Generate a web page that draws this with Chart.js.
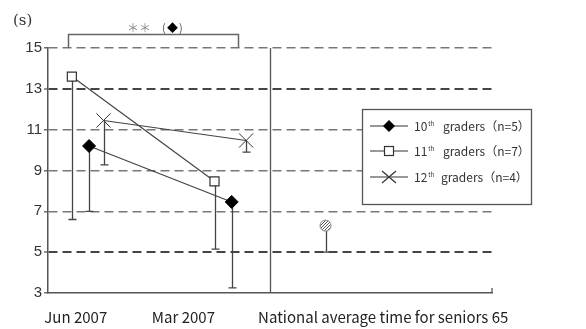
<!DOCTYPE html>
<html>
<head>
<meta charset="utf-8">
<script src="https://cdn.jsdelivr.net/npm/chart.js@4/dist/chart.umd.min.js"></script>
<style>
html,body{margin:0;padding:0;background:#fff;}
#wrap{width:586px;height:329px;position:relative;}
</style>
</head>
<body>
<div id="wrap"><canvas id="c" width="586" height="329"></canvas></div>
<script>
// ---- data ----
const categories = ['Jun 2007', 'Mar 2007', 'National average time for seniors 65'];
const seriesNames = ['10', '11', '12'];
const seriesN = [5, 7, 4];
const grade10 = [10.2, 7.46];
const grade10Low = [7.0, 3.25];
const grade11 = [13.6, 8.47];
const grade11Low = [6.6, 5.15];
const grade12 = [11.45, 10.47];
const grade12Low = [9.28, 9.9];
const nationalAvg = [6.3];
const nationalLow = [5.0];
const yTicks = [3, 5, 7, 9, 11, 13, 15];

// ---- layout (axis positions in x-axis units) ----
const groupCenter = [0.37, 1.655];
const seriesOffset = [0, -0.155, 0.13];
const nationalX = 2.5;
const dividerX = 2.0;
const labelPos = [0.25, 1.22, 3.02];
const bracketX = [0.18, 1.71];

function pts(vals, si) { return vals.map((v, i) => ({x: groupCenter[i] + seriesOffset[si], y: v})); }

// hatch pattern for national marker
const pc = document.createElement('canvas');
pc.width = 3; pc.height = 3;
const pctx = pc.getContext('2d');
pctx.fillStyle = '#fff'; pctx.fillRect(0,0,3,3);
pctx.fillStyle = '#555';
pctx.fillRect(0,2,1,1); pctx.fillRect(1,1,1,1); pctx.fillRect(2,0,1,1);
const hatch = pctx.createPattern(pc, 'repeat');

const lowsBySet = [grade10Low, grade11Low, grade12Low, nationalLow];

const errorBars = {
  id: 'errorBars',
  beforeDatasetsDraw(chart) {
    const ctx = chart.ctx, ys = chart.scales.y;
    ctx.save();
    ctx.strokeStyle = '#444'; ctx.lineWidth = 1.3;
    chart.data.datasets.forEach((ds, di) => {
      const meta = chart.getDatasetMeta(di);
      ds.data.forEach((p, i) => {
        const el = meta.data[i];
        const x = Math.round(el.x) + 0.5;
        const yl = ys.getPixelForValue(lowsBySet[di][i]);
        ctx.beginPath();
        ctx.moveTo(x, el.y); ctx.lineTo(x, yl);
        ctx.moveTo(x - 4, yl); ctx.lineTo(x + 4, yl);
        ctx.stroke();
      });
    });
    ctx.restore();
  }
};

const decor = {
  id: 'decor',
  afterDraw(chart) {
    const ctx = chart.ctx, xs = chart.scales.x, ys = chart.scales.y, ca = chart.chartArea;
    ctx.save();
    // divider
    const dx = Math.round(xs.getPixelForValue(dividerX)) + 0.5;
    ctx.strokeStyle = '#555'; ctx.lineWidth = 1.3;
    ctx.beginPath(); ctx.moveTo(dx, ca.top); ctx.lineTo(dx, ca.bottom); ctx.stroke();
    // end tick at right of x-axis
    ctx.beginPath(); ctx.moveTo(ca.right, ca.bottom); ctx.lineTo(ca.right, ca.bottom - 5); ctx.stroke();
    // significance bracket
    const bx1 = Math.round(xs.getPixelForValue(bracketX[0])) + 0.5;
    const bx2 = Math.round(xs.getPixelForValue(bracketX[1])) + 0.5;
    const by = 34.5, btm = ys.getPixelForValue(15);
    ctx.strokeStyle = '#666'; ctx.lineWidth = 1.5;
    ctx.beginPath(); ctx.moveTo(bx1, btm); ctx.lineTo(bx1, by); ctx.lineTo(bx2, by); ctx.lineTo(bx2, btm); ctx.stroke();
    // bracket text
    ctx.textBaseline = 'middle';
    ctx.font = '12px "Noto Sans CJK JP"';
    ctx.fillStyle = '#888';
    ctx.textAlign = 'left';
    ctx.fillText('＊＊', 127, 28);
    ctx.fillStyle = '#555';
    ctx.font = '11px "Noto Sans CJK JP"';
    ctx.fillText('(', 162, 28);
    ctx.fillStyle = '#000';
    ctx.fillText('◆', 167, 28);
    ctx.fillStyle = '#555';
    ctx.fillText(')', 179, 28);
    // unit label
    ctx.fillStyle = '#333';
    ctx.font = '15px "DejaVu Serif"';
    ctx.fillText('(s)', 13, 21);
    // legend box
    ctx.strokeStyle = '#555'; ctx.lineWidth = 1.3;
    ctx.fillStyle = '#fff';
    ctx.fillRect(362.5, 109.5, 169, 95);
    ctx.strokeRect(362.5, 109.5, 169, 95);
    const rows = [126, 151, 177];
    rows.forEach((ry, i) => {
      ctx.strokeStyle = '#333'; ctx.lineWidth = 1.2;
      ctx.beginPath(); ctx.moveTo(370, ry); ctx.lineTo(408, ry); ctx.stroke();
      const mx = 389;
      if (i === 0) {
        ctx.fillStyle = '#000';
        ctx.beginPath(); ctx.moveTo(mx, ry - 6); ctx.lineTo(mx + 6, ry); ctx.lineTo(mx, ry + 6); ctx.lineTo(mx - 6, ry); ctx.closePath(); ctx.fill();
      } else if (i === 1) {
        ctx.fillStyle = '#fff';
        ctx.fillRect(mx - 4.5, ry - 4.5, 9, 9);
        ctx.strokeRect(mx - 4.5, ry - 4.5, 9, 9);
      } else {
        ctx.beginPath(); ctx.moveTo(mx - 7, ry - 6); ctx.lineTo(mx + 7, ry + 6); ctx.moveTo(mx + 7, ry - 6); ctx.lineTo(mx - 7, ry + 6); ctx.stroke();
      }
      ctx.fillStyle = '#333';
      ctx.textAlign = 'left';
      ctx.font = '12px "Noto Sans CJK JP"';
      ctx.fillText(seriesNames[i], 414, ry);
      const w = ctx.measureText(seriesNames[i]).width;
      ctx.font = '6px "Noto Sans CJK JP"';
      ctx.fillText('th', 414 + w + 1, ry - 2);
      ctx.font = '12px "Noto Sans CJK JP"';
      ctx.fillText('graders（n=' + seriesN[i] + '）', i === 2 ? 441 : 443, ry);
    });
    ctx.restore();
  }
};

const lineCol = '#444';
new Chart(document.getElementById('c'), {
  type: 'line',
  data: {
    datasets: [
      {label: '10th graders (n=5)', data: pts(grade10, 0), borderColor: lineCol, borderWidth: 1.2,
       pointStyle: 'rectRot', pointRadius: 6.5, pointBackgroundColor: '#000', pointBorderColor: '#000', pointBorderWidth: 1},
      {label: '11th graders (n=7)', data: pts(grade11, 1), borderColor: lineCol, borderWidth: 1.2,
       pointStyle: 'rect', pointRadius: 6.4, pointBackgroundColor: '#fff', pointBorderColor: '#333', pointBorderWidth: 1.2},
      {label: '12th graders (n=4)', data: pts(grade12, 2), borderColor: lineCol, borderWidth: 1.2,
       pointStyle: 'crossRot', pointRadius: 10, pointBorderColor: '#333', pointBorderWidth: 1},
      {label: 'National', data: nationalAvg.map(v => ({x: nationalX, y: v})), showLine: false,
       pointStyle: 'circle', pointRadius: 5.5, pointBackgroundColor: hatch, pointBorderColor: '#888', pointBorderWidth: 1}
    ]
  },
  options: {
    responsive: false,
    animation: false,
    events: [],
    layout: {padding: {top: 48, right: 94, left: 0, bottom: 0}},
    plugins: {legend: {display: false}, tooltip: {enabled: false}},
    scales: {
      x: {
        type: 'linear', min: 0, max: 4,
        afterBuildTicks(scale) { scale.ticks = labelPos.map(v => ({value: v})); },
        afterFit(scale) { scale.height = 36; scale.paddingLeft = 0; scale.paddingRight = 0; },
        ticks: {autoSkip: false, maxRotation: 0, padding: 15, color: '#222',
                font: {family: '"Noto Sans CJK JP"', size: 15},
                callback: (v, i) => categories[i]},
        grid: {display: false, drawTicks: false},
        border: {display: true, color: '#555', width: 1.5}
      },
      y: {
        min: 3, max: 15,
        afterBuildTicks(scale) { scale.ticks = yTicks.map(v => ({value: v})); },
        afterFit(scale) { scale.width = 48; scale.paddingTop = 0; scale.paddingBottom = 0; },
        ticks: {padding: 2, color: '#333', font: {family: '"Liberation Sans"', size: 15}},
        grid: {
          drawTicks: true, tickLength: 4,
          color: c => (c.tick && c.tick.value === 3) ? 'rgba(0,0,0,0)' : ((c.tick && (c.tick.value === 13 || c.tick.value === 5)) ? '#444' : '#777'),
          lineWidth: c => (c.tick && (c.tick.value === 13 || c.tick.value === 5)) ? 2 : 1.6,
          tickColor: '#555', tickWidth: 1.3, tickBorderDash: []
        },
        border: {display: true, color: '#555', width: 1.5, dash: [9, 5]}
      }
    }
  },
  plugins: [errorBars, decor]
});
</script>
</body>
</html>
